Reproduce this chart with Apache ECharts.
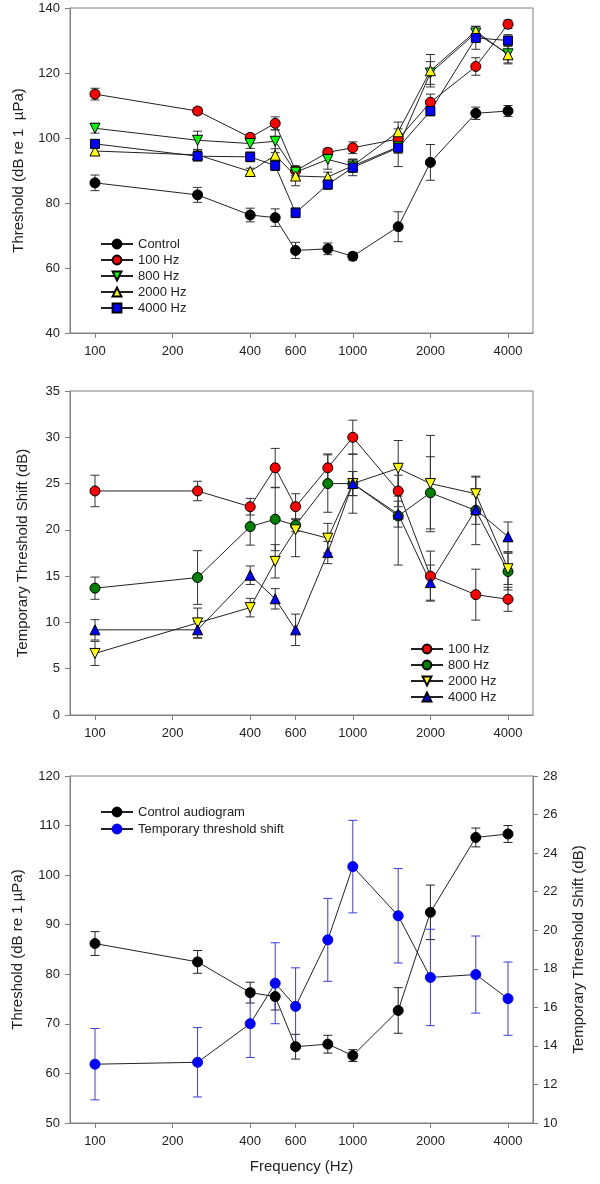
<!DOCTYPE html>
<html>
<head>
<meta charset="utf-8">
<script src="https://cdn.jsdelivr.net/npm/echarts@6/dist/echarts.min.js"></script>
<style>
  html, body { margin: 0; padding: 0; background: #fff; }
  #chart { width: 600px; height: 1184px; }
</style>
</head>
<body>
<div id="chart"></div>
<script>
// frequencies tested (Hz)
const freqs = [100, 250, 400, 500, 600, 800, 1000, 1500, 2000, 3000, 4000];
const tickFreqs = [100, 200, 400, 600, 1000, 2000, 4000];

// control audiogram (dB re 1 µPa), mean and SE
const controlMean = [86.2, 82.5, 76.3, 75.5, 65.4, 65.9, 63.6, 72.7, 92.5, 107.6, 108.3];
const controlErr = [2.4, 2.3, 2.1, 2.7, 2.5, 1.8, 1.2, 4.6, 5.5, 1.9, 1.7];

// thresholds after noise exposure at each tone
const th100 = [113.5, 108.3, 100.2, 104.5, 89.9, 95.6, 97.0, 99.7, 111.0, 122.0, 135.0];
const th100Err = [1.8, 1.0, 1.0, 2.0, 1.5, 1.2, 1.8, 1.5, 2.5, 2.7, 1.3];
const th800 = [103.0, 99.3, 98.3, 99.0, 89.5, 93.4, 91.4, 97.3, 120.0, 132.3, 125.9];
const th800Err = [1.5, 2.8, 1.5, 3.5, 1.5, 3.0, 2.0, 2.0, 3.5, 2.0, 2.8];
const th2000 = [96.0, 94.8, 89.7, 94.7, 88.3, 88.0, 91.5, 101.9, 120.7, 132.9, 125.6];
const th2000Err = [1.2, 1.5, 1.0, 2.0, 3.0, 1.5, 2.0, 3.0, 5.0, 1.5, 2.8];
const th4000 = [98.2, 94.4, 94.2, 91.5, 77.0, 85.7, 90.9, 97.0, 108.3, 130.8, 130.0];
const th4000Err = [1.3, 1.5, 1.5, 1.5, 1.5, 1.5, 2.5, 5.8, 1.5, 3.5, 1.8];

// temporary threshold shift (dB)
const tts100 = [24.2, 24.2, 22.5, 26.7, 22.5, 26.7, 30.0, 24.2, 15.0, 13.0, 12.5];
const tts100Err = [1.7, 1.05, 0.9, 2.1, 1.4, 1.5, 1.85, 1.7, 2.7, 2.75, 1.3];
const tts800 = [13.7, 14.85, 20.35, 21.15, 20.5, 25.0, 25.0, 21.5, 24.0, 22.1, 15.5];
const tts800Err = [1.2, 2.9, 2.0, 3.4, 0.7, 3.1, 1.3, 5.3, 3.9, 3.7, 2.0];
const tts2000 = [6.65, 9.95, 11.6, 16.6, 20.0, 19.1, 25.0, 26.65, 25.0, 23.9, 15.8];
const tts2000Err = [1.3, 1.6, 1.0, 1.8, 2.9, 1.6, 3.2, 3.0, 5.2, 1.8, 1.7];
const tts4000 = [9.2, 9.2, 15.1, 12.55, 9.2, 17.55, 25.0, 21.7, 14.3, 22.2, 19.25];
const tts4000Err = [1.1, 0.9, 1.0, 1.1, 1.7, 1.2, 1.3, 1.4, 1.9, 1.6, 1.6];

// mean TTS over all exposures
const ttsMean = [13.05, 13.15, 15.15, 17.25, 16.05, 19.5, 23.3, 20.75, 17.55, 17.7, 16.45];
const ttsErr = [1.85, 1.8, 1.75, 2.1, 2.0, 2.15, 2.4, 2.45, 2.5, 2.0, 1.9];

const FONT = 'Liberation Sans, Arial, sans-serif';
const AXIS_GREY = '#808080';
const TEXT = '#222';

const chart = echarts.init(document.getElementById('chart'));

// x is plotted as log10(frequency)
function points(means) {
  return freqs.map((f, i) => [Math.log10(f), means[i]]);
}

function lineSeries(name, means, idx, yIdx, symbol, color, size, rotate, border) {
  return {
    name: name,
    type: 'line',
    xAxisIndex: idx,
    yAxisIndex: yIdx,
    data: points(means),
    symbol: symbol,
    symbolSize: size,
    symbolRotate: rotate || 0,
    showAllSymbol: true,
    lineStyle: { color: '#222', width: 1 },
    itemStyle: { color: color, borderColor: border || '#000', borderWidth: 1 },
    emphasis: { disabled: true },
    z: 3
  };
}

function errorSeries(means, errs, idx, yIdx, color) {
  return {
    type: 'custom',
    xAxisIndex: idx,
    yAxisIndex: yIdx,
    data: freqs.map((f, i) => [Math.log10(f), means[i] - errs[i], means[i] + errs[i]]),
    encode: { x: 0, y: [1, 2] },
    z: 2,
    silent: true,
    renderItem: function (params, api) {
      const lo = api.coord([api.value(0), api.value(1)]);
      const hi = api.coord([api.value(0), api.value(2)]);
      const w = 4.5;
      const style = { stroke: color, lineWidth: 1 };
      return {
        type: 'group',
        children: [
          { type: 'line', shape: { x1: lo[0], y1: lo[1], x2: hi[0], y2: hi[1] }, style: style },
          { type: 'line', shape: { x1: lo[0] - w, y1: lo[1], x2: lo[0] + w, y2: lo[1] }, style: style },
          { type: 'line', shape: { x1: hi[0] - w, y1: hi[1], x2: hi[0] + w, y2: hi[1] }, style: style }
        ]
      };
    }
  };
}

function freqAxis(idx, name) {
  const ticks = tickFreqs.map(f => Math.log10(f));
  return {
    type: 'value',
    gridIndex: idx,
    min: Math.log10(80),
    max: Math.log10(5000),
    name: name || '',
    nameLocation: 'middle',
    nameGap: 36,
    nameTextStyle: { fontFamily: FONT, fontSize: 15, color: TEXT },
    axisLine: { lineStyle: { color: AXIS_GREY } },
    axisTick: { customValues: ticks, length: 5, lineStyle: { color: AXIS_GREY } },
    axisLabel: {
      customValues: ticks,
      margin: 12,
      fontFamily: FONT, fontSize: 13, color: TEXT,
      formatter: v => String(Math.round(Math.pow(10, v)))
    },
    splitLine: { show: false }
  };
}

function valueAxis(idx, min, max, interval, name, gap, pos) {
  return {
    type: 'value',
    gridIndex: idx,
    position: pos || 'left',
    min: min, max: max, interval: interval,
    name: name,
    nameLocation: 'middle',
    nameGap: gap,
    nameTextStyle: { fontFamily: FONT, fontSize: 15, color: TEXT },
    axisLine: { show: true, lineStyle: { color: AXIS_GREY } },
    axisTick: { show: true, length: 5, lineStyle: { color: AXIS_GREY } },
    axisLabel: { margin: 10, fontFamily: FONT, fontSize: 13, color: TEXT },
    splitLine: { show: false }
  };
}

function legendBox(names, left, top, gap) {
  return {
    data: names,
    orient: 'vertical',
    left: left,
    top: top,
    itemWidth: 32,
    itemHeight: 11,
    itemGap: gap,
    selectedMode: false,
    formatter: n => n.split('|')[0],
    textStyle: { fontFamily: FONT, fontSize: 13, color: TEXT, lineHeight: 14 }
  };
}

const gridBox = { show: true, borderColor: AXIS_GREY, borderWidth: 1, backgroundColor: 'transparent' };

const option = {
  animation: false,
  backgroundColor: '#fff',
  grid: [
    Object.assign({ left: 70, right: 67, top: 8, height: 325 }, gridBox),
    Object.assign({ left: 70, right: 67, top: 391, height: 324 }, gridBox),
    Object.assign({ left: 70, right: 67, top: 776, height: 347 }, gridBox)
  ],
  xAxis: [freqAxis(0), freqAxis(1), freqAxis(2, 'Frequency (Hz)')],
  yAxis: [
    valueAxis(0, 40, 140, 20, 'Threshold (dB re 1  µPa)', 44),
    valueAxis(1, 0, 35, 5, 'Temporary Threshold Shift (dB)', 40),
    valueAxis(2, 50, 120, 10, 'Threshold (dB re 1 µPa)', 45),
    valueAxis(2, 10, 28, 2, 'Temporary Threshold Shift (dB)', 38, 'right')
  ],
  legend: [
    legendBox(['Control', '100 Hz', '800 Hz', '2000 Hz', '4000 Hz'], 95, 232, 2),
    legendBox(['100 Hz|b', '800 Hz|b', '2000 Hz|b', '4000 Hz|b'], 405, 637, 2),
    legendBox(['Control audiogram', 'Temporary threshold shift'], 95, 800, 3)
  ],
  series: [
    // panel 1: thresholds
    errorSeries(controlMean, controlErr, 0, 0, '#333'),
    errorSeries(th100, th100Err, 0, 0, '#333'),
    errorSeries(th800, th800Err, 0, 0, '#333'),
    errorSeries(th2000, th2000Err, 0, 0, '#333'),
    errorSeries(th4000, th4000Err, 0, 0, '#333'),
    lineSeries('Control', controlMean, 0, 0, 'circle', '#000', 10),
    lineSeries('100 Hz', th100, 0, 0, 'circle', '#ff0000', 10),
    lineSeries('800 Hz', th800, 0, 0, 'triangle', '#00ff00', 10, 180),
    lineSeries('2000 Hz', th2000, 0, 0, 'triangle', '#ffff00', 10),
    lineSeries('4000 Hz', th4000, 0, 0, 'rect', '#0000ff', 9),
    // panel 2: TTS per exposure tone
    errorSeries(tts100, tts100Err, 1, 1, '#333'),
    errorSeries(tts800, tts800Err, 1, 1, '#333'),
    errorSeries(tts2000, tts2000Err, 1, 1, '#333'),
    errorSeries(tts4000, tts4000Err, 1, 1, '#333'),
    lineSeries('100 Hz|b', tts100, 1, 1, 'circle', '#ff0000', 10),
    lineSeries('800 Hz|b', tts800, 1, 1, 'circle', '#008000', 10),
    lineSeries('2000 Hz|b', tts2000, 1, 1, 'triangle', '#ffff00', 10, 180),
    lineSeries('4000 Hz|b', tts4000, 1, 1, 'triangle', '#0000ff', 10),
    // panel 3: control audiogram vs mean TTS
    errorSeries(controlMean, controlErr, 2, 2, '#222'),
    errorSeries(ttsMean, ttsErr, 2, 3, '#3c3cd6'),
    lineSeries('Control audiogram', controlMean, 2, 2, 'circle', '#000', 10),
    lineSeries('Temporary threshold shift', ttsMean, 2, 3, 'circle', '#0000ff', 10, 0, '#0000ff')
  ]
};

chart.setOption(option);
</script>
</body>
</html>
